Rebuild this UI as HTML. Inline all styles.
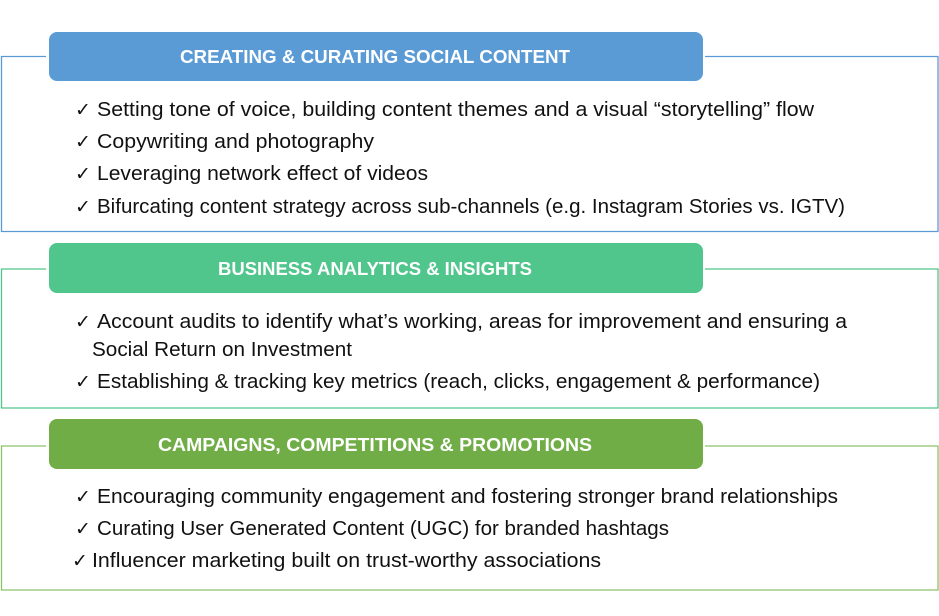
<!DOCTYPE html>
<html><head><meta charset="utf-8"><style>
html,body{margin:0;padding:0;background:#fff;width:939px;height:616px;overflow:hidden}
svg text{font-family:"Liberation Sans","DejaVu Sans",sans-serif}
.h{fill:#fff;font-weight:bold;font-size:18px}
.t{fill:#111;font-size:20px}
.c{fill:#111;font-size:19px;font-family:"DejaVu Sans",sans-serif !important;font-weight:bold}
</style></head><body>
<svg width="939" height="616" viewBox="0 0 939 616" xmlns="http://www.w3.org/2000/svg">
<path d="M46 56.5 H1.5 V231.5 H938 V56.5 H705" fill="none" stroke="#5b9bd5" stroke-width="1.3"/>
<rect x="49" y="32" width="654" height="49" rx="8" fill="#5b9bd5"/>
<text class="h" x="180" y="63" textLength="390" lengthAdjust="spacingAndGlyphs">CREATING &amp; CURATING SOCIAL CONTENT</text>
<text class="c" x="75" y="116">✓</text><text class="t" x="97" y="116" textLength="717" lengthAdjust="spacingAndGlyphs">Setting tone of voice, building content themes and a visual “storytelling” flow</text>
<text class="c" x="75" y="148">✓</text><text class="t" x="97" y="148" textLength="277" lengthAdjust="spacingAndGlyphs">Copywriting and photography</text>
<text class="c" x="75" y="180">✓</text><text class="t" x="97" y="180" textLength="331" lengthAdjust="spacingAndGlyphs">Leveraging network effect of videos</text>
<text class="c" x="75" y="213">✓</text><text class="t" x="97" y="213" textLength="748" lengthAdjust="spacingAndGlyphs">Bifurcating content strategy across sub-channels (e.g. Instagram Stories vs. IGTV)</text>
<path d="M46 269 H1.5 V408 H938 V269 H705" fill="none" stroke="#50c58c" stroke-width="1.3"/>
<rect x="49" y="243" width="654" height="50" rx="8" fill="#50c58c"/>
<text class="h" x="218" y="275" textLength="314" lengthAdjust="spacingAndGlyphs">BUSINESS ANALYTICS &amp; INSIGHTS</text>
<text class="c" x="75" y="328">✓</text><text class="t" x="97" y="328" textLength="750" lengthAdjust="spacingAndGlyphs">Account audits to identify what’s working, areas for improvement and ensuring a</text>
<text class="t" x="92" y="356" textLength="260" lengthAdjust="spacingAndGlyphs">Social Return on Investment</text>
<text class="c" x="75" y="388">✓</text><text class="t" x="97" y="388" textLength="723" lengthAdjust="spacingAndGlyphs">Establishing &amp; tracking key metrics (reach, clicks, engagement &amp; performance)</text>
<path d="M46 446 H1.5 V590 H938 V446 H705" fill="none" stroke="#8cc46a" stroke-width="1.3"/>
<rect x="49" y="419" width="654" height="50" rx="8" fill="#70ad47"/>
<text class="h" x="158" y="451" textLength="434" lengthAdjust="spacingAndGlyphs">CAMPAIGNS, COMPETITIONS &amp; PROMOTIONS</text>
<text class="c" x="75" y="503">✓</text><text class="t" x="97" y="503" textLength="741" lengthAdjust="spacingAndGlyphs">Encouraging community engagement and fostering stronger brand relationships</text>
<text class="c" x="75" y="535">✓</text><text class="t" x="97" y="535" textLength="572" lengthAdjust="spacingAndGlyphs">Curating User Generated Content (UGC) for branded hashtags</text>
<text class="c" x="72" y="567">✓</text><text class="t" x="92" y="567" textLength="509" lengthAdjust="spacingAndGlyphs">Influencer marketing built on trust-worthy associations</text>
</svg>
</body></html>
